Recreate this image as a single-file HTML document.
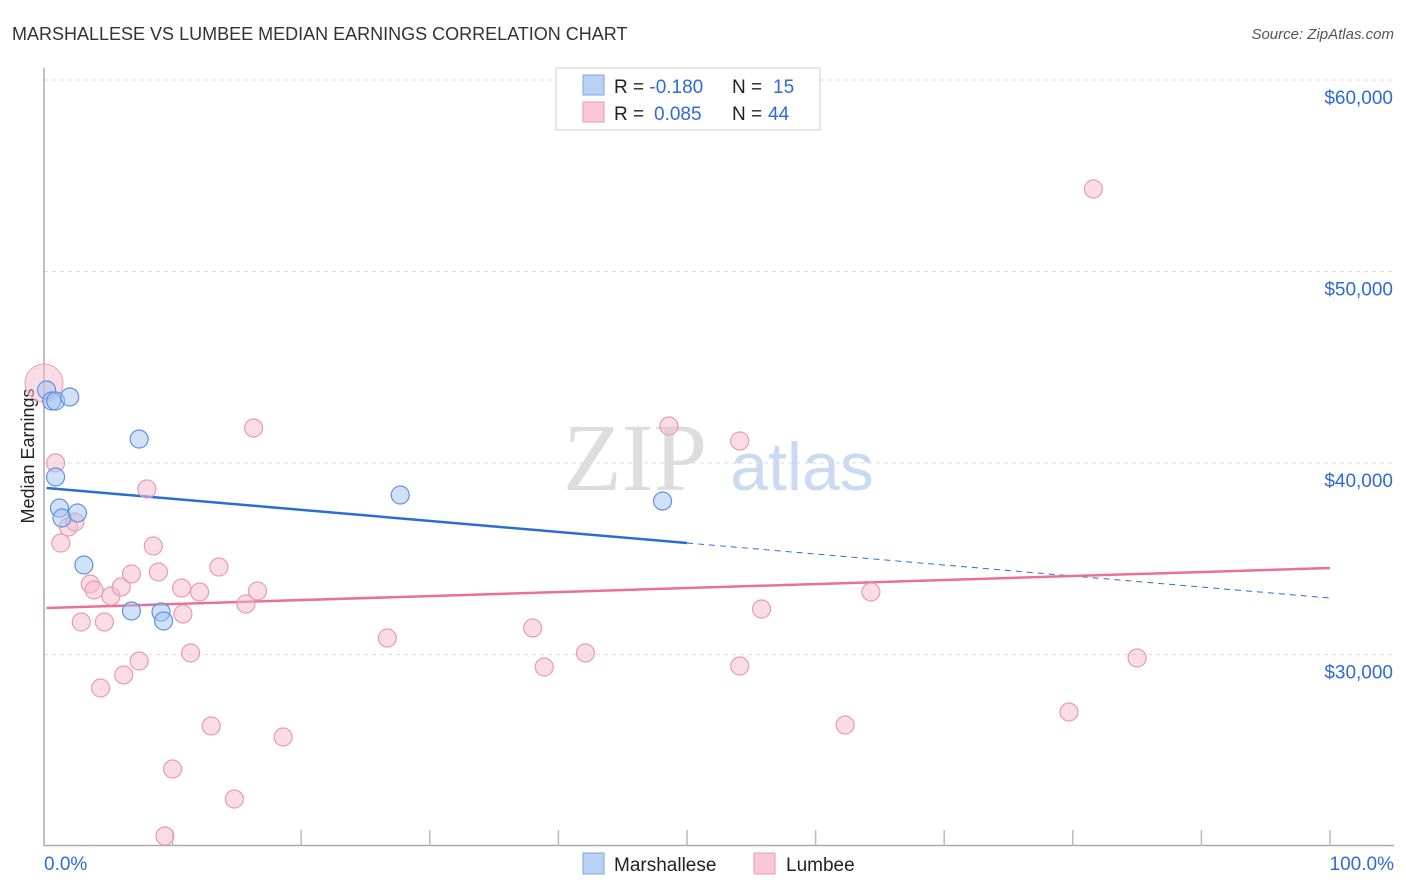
<!DOCTYPE html>
<html><head><meta charset="utf-8"><style>
body{margin:0;background:#fff;font-family:"Liberation Sans",sans-serif;}
svg{display:block}
</style></head><body>
<svg id="chart" width="1406" height="892">
<text x="12" y="40" font-size="18" fill="#333">MARSHALLESE VS LUMBEE MEDIAN EARNINGS CORRELATION CHART</text>
<text x="1394" y="39" font-size="15" fill="#555" font-style="italic" text-anchor="end">Source: ZipAtlas.com</text>
<text x="34" y="456" font-size="18" fill="#222" text-anchor="middle" transform="rotate(-90 34 456)">Median Earnings</text>
<g>
<text x="635" y="490" font-size="96" fill="#ddd" font-family="Liberation Serif,serif" text-anchor="middle">ZIP</text>
<text x="802" y="490" font-size="68" fill="#c9daf2" text-anchor="middle">atlas</text>
</g>
<g id="grid"></g><g id="axes"></g><g id="lines"></g><g id="dots"></g>
<g>
<rect x="556" y="68" width="264" height="62" fill="#fff" stroke="#ccc"/>
<rect x="583" y="75" width="21" height="20" fill="#b9d1f5" stroke="#7aa5e6"/>
<rect x="583" y="102" width="21" height="20" fill="#f9c7d6" stroke="#ea9ab4"/>
<text x="614" y="93" font-size="19" fill="#222">R = <tspan fill="#2f6ad6">-0.180</tspan><tspan x="732">N = </tspan><tspan x="773" fill="#2f6ad6">15</tspan></text>
<text x="614" y="120" font-size="19" fill="#222">R = <tspan x="654" fill="#2f6ad6">0.085</tspan><tspan x="732">N = </tspan><tspan x="768" fill="#2f6ad6">44</tspan></text>
</g>
<g>
<rect x="583" y="853" width="21" height="21" fill="#b9d1f5" stroke="#7aa5e6"/>
<text x="614" y="871" font-size="19" fill="#222">Marshallese</text>
<rect x="754" y="853" width="21" height="21" fill="#f9c7d6" stroke="#ea9ab4"/>
<text x="786" y="871" font-size="19" fill="#222">Lumbee</text>
</g>
</svg>
<script>
const yTicks=[30000,40000,50000,60000];
const yTickLabels=["$30,000","$40,000","$50,000","$60,000"];
const xTickLabels=["0.0%","100.0%"];
const blueX=[0.2,0.6,0.9,2.0,7.4,0.9,1.2,1.4,2.6,3.1,6.8,9.1,9.3,27.7,48.1];
const blueY=[43812,43237,43237,43446,41253,39269,37650,37128,37389,34673,32271,32219,31749,38329,38015];
const pinkX=[0.9,1.3,1.9,2.4,2.9,3.6,3.9,4.4,5.2,4.7,6.0,6.2,6.8,7.4,8.0,8.5,8.9,9.4,10.0,10.7,10.8,11.4,12.1,13.0,13.6,14.8,15.7,16.3,16.6,18.6,26.7,38.0,38.9,42.1,48.6,54.1,54.1,55.8,62.3,64.3,79.7,81.6,85.0];
const pinkY=[40000,35822,36658,36919,31697,33681,33368,28250,33054,31697,33524,28929,34203,29660,38642,35665,34308,20522,24020,33472,32115,30078,33263,26266,34569,22454,32637,41827,33316,25691,30861,31383,29347,30078,41932,41149,29399,32376,26318,33263,26997,54308,29817];
const pinkBig=[0,44177];
const blueTrend=[38695,32950];
const pinkTrend=[32427,34517];
const blueSolidEnd=50;
const NS="http://www.w3.org/2000/svg";
const X=v=>44+v*12.86;
const Y=v=>80+(60000-v)*0.01915;
function mk(t,a,p){const e=document.createElementNS(NS,t);for(const k in a)e.setAttribute(k,a[k]);p.appendChild(e);return e;}
const grid=document.getElementById('grid'),axes=document.getElementById('axes'),lines=document.getElementById('lines'),dots=document.getElementById('dots');
yTicks.forEach((v,i)=>{
 const l=mk('line',{x1:44,x2:1394,y1:Y(v),y2:Y(v),stroke:'#ddd','stroke-dasharray':'4 4'},grid);
 
 
 const t=mk('text',{x:1393,y:Y(v)+24,'font-size':19,fill:'#2f6ad6','text-anchor':'end'},axes);
 t.textContent=yTickLabels[i];
 
 
});
mk('line',{x1:44,x2:44,y1:68,y2:846,stroke:'#aaa','stroke-width':1.5},axes);
const xa=mk('line',{x1:44,x2:1394,y1:845.5,y2:845.5,stroke:'#aaa','stroke-width':1.5},axes);


for(let i=1;i<=10;i++){const tk=mk('line',{x1:X(i*10),x2:X(i*10),y1:830,y2:846,stroke:'#bbb','stroke-width':1.5},axes);
 
 }
const xl0=mk('text',{x:44,y:870,'font-size':19,fill:'#2f6ad6'},axes);xl0.textContent=xTickLabels[0];


const xl1=mk('text',{x:1394,y:870,'font-size':19,fill:'#2f6ad6','text-anchor':'end'},axes);xl1.textContent=xTickLabels[1];


const bm=blueTrend[0]+(blueTrend[1]-blueTrend[0])*blueSolidEnd/100;
const b1=mk('line',{x1:X(0.2),y1:Y(blueTrend[0]),x2:X(blueSolidEnd),y2:Y(bm),stroke:'#2a6dd6','stroke-width':2.5},lines);


const b2=mk('line',{x1:X(blueSolidEnd),y1:Y(bm),x2:X(100),y2:Y(blueTrend[1]),stroke:'#2a6dd6','stroke-width':1,'stroke-dasharray':'6 5'},lines);


const p1=mk('line',{x1:X(0.2),y1:Y(pinkTrend[0]),x2:X(100),y2:Y(pinkTrend[1]),stroke:'#e8709a','stroke-width':2.5},lines);


const big=mk('circle',{cx:X(pinkBig[0]),cy:Y(pinkBig[1]),r:19,fill:'rgba(246,186,206,0.5)',stroke:'#eaa0ba'},dots);


pinkX.forEach((v,i)=>{const c=mk('circle',{cx:X(v),cy:Y(pinkY[i]),r:9,fill:'rgba(246,186,206,0.5)',stroke:'#e89ab5','stroke-width':1.2},dots);
 
 });
blueX.forEach((v,i)=>{const c=mk('circle',{cx:X(v),cy:Y(blueY[i]),r:9,fill:'rgba(164,196,240,0.5)',stroke:'#5f92df','stroke-width':1.2},dots);
 
 });
</script>
</body></html>
